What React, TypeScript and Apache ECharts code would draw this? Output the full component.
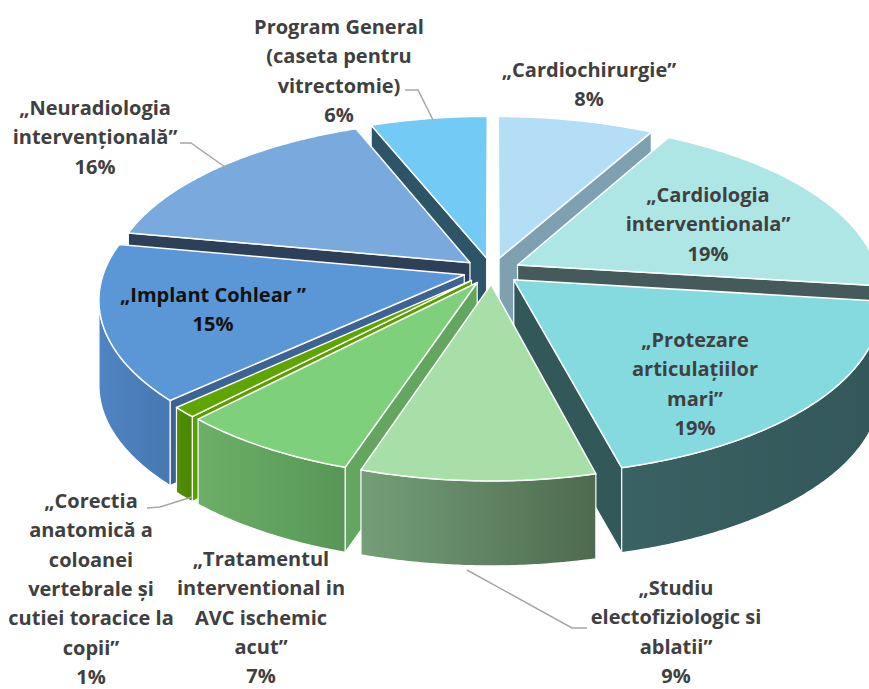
import React, { useEffect, useRef } from "react";
import * as echarts from "echarts";

// ---- data ----
const categories = [
  "„Cardiochirurgie”",
  "„Cardiologia\ninterventionala”",
  "„Protezare\narticulațiilor\nmari”",
  "„Studiu\nelectofiziologic si\nablatii”",
  "„Tratamentul\ninterventional in\nAVC ischemic\nacut”",
  "„Corectia\nanatomică a\ncoloanei\nvertebrale și\ncutiei toracice la\ncopii”",
  "„Implant Cohlear ”",
  "„Neuradiologia\nintervențională”",
  "Program General\n(caseta pentru\nvitrectomie)",
];
const values = [8, 19, 19, 9, 7, 1, 15, 16, 6];

// ---- styles ----
const topColors = ["#B4DDF6", "#AEE6E6", "#84DADE", "#A8DEA8", "#7FD07C", "#5EA500", "#5B96D6", "#7AAADD", "#73CBF5"];
const wallColors = [
  ["#7FA0B0", "#7FA0B0"],
  ["#465A5C", "#465A5C"],
  ["#3A6163", "#33575A"],
  ["#759F78", "#4E6A50"],
  ["#6CAF68", "#589656"],
  ["#4F9000", "#4A8600"],
  ["#5084C2", "#4678B2"],
  ["#2E4058", "#2E4058"],
  ["#2E5467", "#2E5467"],
];
const faceColors = ["#7FA0B0", "#465A5C", "#33585A", "#5E8A60", "#64A660", "#5A9E00", "#3C6394", "#2E4058", "#2E5467"];
const labelColors = ["#404040", "#404040", "#404040", "#404040", "#404040", "#404040", "#111111", "#404040", "#404040"];
const labelPos = [
  [589, 55], [708, 180], [695, 325], [676, 573], [261, 544], [91, 486], [213, 280], [95, 93], [339, 12],
];
const leaderLines: (number[][] | null)[] = [
  null, null, null,
  [[467, 570], [572, 628], [587, 628]],
  null,
  [[147, 508], [160, 507], [192, 497]],
  null,
  [[180, 143], [191, 143], [225, 167]],
  [[405, 90], [418, 90], [433, 120]],
];

// ---- 3D geometry ----
const CX = 492, CY = 271, RX = 360, RY = 165, PERSP = 0.14, DEPTH = 85, EXPLODE = 0.08;
const FONT = "'Open Sans'";
const FS = 20;
const LH = 29.3;

function proj(u: number, v: number, z: number): number[] {
  const f = 1 / (1 - PERSP * v);
  return [CX + RX * u * f, CY + RY * v * f + DEPTH * z];
}

const total = values.reduce((a, b) => a + b, 0);

export default function App() {
  const ref = useRef<HTMLDivElement>(null);
  useEffect(() => {
    if (!ref.current) return;
    const chart = echarts.init(ref.current, undefined, { renderer: "svg" });
    const camV = 1 / PERSP;
    const option: any = {
      animation: false,
      backgroundColor: "#ffffff",
      series: [
        {
          type: "custom",
          coordinateSystem: "none",
          data: values.map((v, i) => ({ value: [i, v], name: categories[i] })),
          renderItem: (params: any, api: any) => {
            const i = params.dataIndex;
            const val = api.value(1);
            let before = 0;
            for (let k = 0; k < i; k++) before += values[k];
            const a0 = (before / total) * Math.PI * 2;
            const a1 = ((before + val) / total) * Math.PI * 2;
            const am = (a0 + a1) / 2;
            const ou = EXPLODE * Math.sin(am);
            const ov = -EXPLODE * Math.cos(am);
            const pt = (a: number, z: number) => proj(ou + Math.sin(a), ov - Math.cos(a), z);
            const tip = (z: number) => proj(ou, ov, z);
            const children: any[] = [];
            const step = Math.PI / 360;

            // top face
            const topPts: number[][] = [tip(0)];
            const n = Math.max(2, Math.ceil((a1 - a0) / step));
            for (let s = 0; s <= n; s++) topPts.push(pt(a0 + ((a1 - a0) * s) / n, 0));
            children.push({
              type: "polygon",
              z2: 1000,
              shape: { points: topPts },
              style: { fill: topColors[i], stroke: "#ffffff", lineWidth: 1.5, lineJoin: "round" },
            });

            // outer wall (visible portion)
            const vis = (a: number) => -1 - ou * Math.sin(a) - Math.cos(a) / PERSP + ov * Math.cos(a) > 0;
            let lo = -1, hi = -1;
            for (let s = 0; s <= n; s++) {
              const a = a0 + ((a1 - a0) * s) / n;
              if (vis(a)) {
                if (lo < 0) lo = a;
                hi = a;
              }
            }
            if (lo >= 0 && hi > lo) {
              const m = Math.max(2, Math.ceil((hi - lo) / step));
              const up: number[][] = [];
              const dn: number[][] = [];
              for (let s = 0; s <= m; s++) {
                const a = lo + ((hi - lo) * s) / m;
                up.push(pt(a, 0));
                dn.push(pt(a, 1));
              }
              const amid = (lo + hi) / 2;
              children.push({
                type: "polygon",
                z2: 500 + (ov - Math.cos(amid)) * 200,
                shape: { points: up.concat(dn.reverse()) },
                style: {
                  fill: new echarts.graphic.LinearGradient(0, 0, 1, 0, [
                    { offset: 0, color: wallColors[i][0] },
                    { offset: 1, color: wallColors[i][1] },
                  ]),
                  stroke: "#ffffff",
                  lineWidth: 1.2,
                  lineJoin: "round",
                },
              });
            }

            // radial faces
            const startDot = ou * Math.cos(a0) - Math.sin(a0) * (camV - ov);
            const endDot = -ou * Math.cos(a1) + Math.sin(a1) * (camV - ov);
            const addFace = (a: number) => {
              children.push({
                type: "polygon",
                z2: 500 + (ov - Math.cos(a) / 2) * 200,
                shape: { points: [tip(0), pt(a, 0), pt(a, 1), tip(1)] },
                style: { fill: faceColors[i], stroke: "#ffffff", lineWidth: 1.2, lineJoin: "round" },
              });
            };
            if (startDot > 0.1) addFace(a0);
            if (endDot > 0.1) addFace(a1);

            // label
            const pct = Math.round((val / total) * 100) + "%";
            children.push({
              type: "text",
              z2: 2000,
              x: labelPos[i][0],
              y: labelPos[i][1],
              style: {
                text: categories[i] + "\n" + pct,
                align: "center",
                verticalAlign: "top",
                fontFamily: FONT,
                fontWeight: "bold",
                fontSize: FS,
                lineHeight: LH,
                fill: labelColors[i],
              },
            });
            const ll = leaderLines[i];
            if (ll) {
              children.push({
                type: "polyline",
                z2: 1900,
                shape: { points: ll },
                style: { stroke: "#A6A6A6", lineWidth: 1.5, fill: null },
              });
            }
            return { type: "group", children };
          },
        },
      ],
    };
    chart.setOption(option);
    return () => chart.dispose();
  }, []);
  return (
    <div
      ref={ref}
      style={{ position: "fixed", left: 0, top: 0, width: 869, height: 689, background: "#fff" }}
    />
  );
}
